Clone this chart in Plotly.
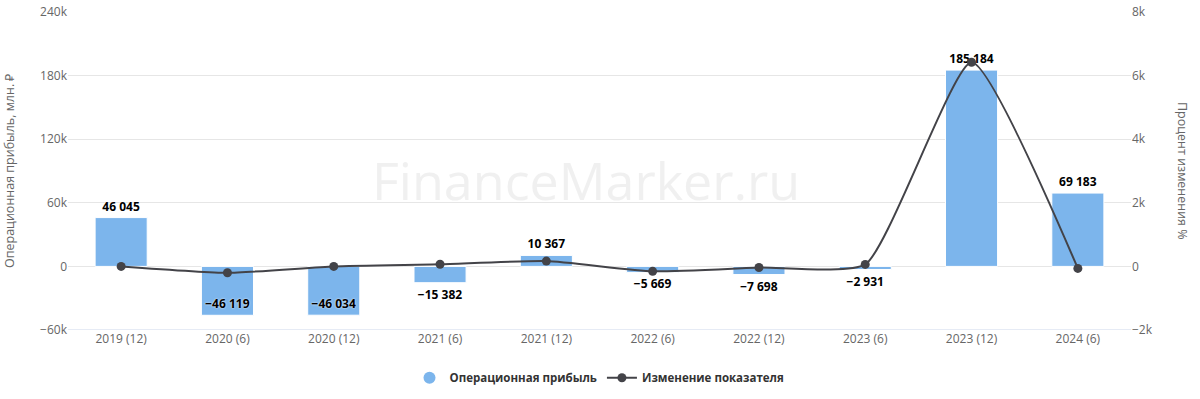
import plotly.graph_objects as go

categories = ["2019 (12)", "2020 (6)", "2020 (12)", "2021 (6)", "2021 (12)",
              "2022 (6)", "2022 (12)", "2023 (6)", "2023 (12)", "2024 (6)"]
profit = [46045, -46119, -46034, -15382, 10367, -5669, -7698, -2931, 185184, 69183]
change_pct = [0, -200.2, 0.2, 66.6, 167.4, -154.7, -35.8, 61.9, 6418.1, -62.6]

def fmt(v):
    s = f"{abs(v):,}".replace(",", "\u00a0")
    return ("\u2212" + s) if v < 0 else s

labels = [fmt(v) for v in profit]
# labels that would fall below the axis are placed inside the bar end
positions = ["inside" if v < -30000 else "outside" for v in profit]

FONT = "Open Sans"
W, H = 1200, 399
L, R, T, B = 68, 69, 12, 69
pw = W - L - R

lab_font = dict(family=FONT, size=12, color="#000000", weight="bold",
                shadow="0px 0px 2px #ffffff")

fig = go.Figure()
fig.add_trace(go.Bar(
    x=categories, y=profit, name="Операционная прибыль",
    marker=dict(color="#7cb5ec", line=dict(width=1, color="#ffffff")),
    width=0.49, text=labels, textposition=positions, insidetextanchor="end",
    constraintext="none", cliponaxis=False, showlegend=False,
    textfont=lab_font, insidetextfont=lab_font, outsidetextfont=lab_font,
    yaxis="y",
))
fig.add_trace(go.Scatter(
    x=[None], y=[None], mode="markers", name="Операционная прибыль",
    marker=dict(color="#7cb5ec", size=12, symbol="circle"), yaxis="y",
))
fig.add_trace(go.Scatter(
    x=categories, y=change_pct, name="Изменение показателя",
    mode="lines+markers", line=dict(color="#434348", width=2, shape="spline", smoothing=0.5),
    marker=dict(color="#434348", size=9), yaxis="y2", cliponaxis=False,
))

fig.add_annotation(text="FinanceMarker.ru", xref="paper", yref="paper", x=0.487, y=0.472,
                   showarrow=False, font=dict(family=FONT, size=52, color="rgba(200,200,200,0.28)"))
fig.add_annotation(text="Операционная прибыль, млн. ₽", xref="paper", yref="paper",
                   x=(9 - L) / pw, y=0.5, xanchor="center", yanchor="middle",
                   textangle=-90, showarrow=False,
                   font=dict(family=FONT, size=12.5, color="#666666"))
fig.add_annotation(text="Процент изменения %", xref="paper", yref="paper",
                   x=(1183 - L) / pw, y=0.5, xanchor="center", yanchor="middle",
                   textangle=90, showarrow=False,
                   font=dict(family=FONT, size=12.5, color="#666666"))

fig.update_layout(
    width=W, height=H,
    margin=dict(l=L, r=R, t=T, b=B, autoexpand=False),
    paper_bgcolor="white", plot_bgcolor="white",
    font=dict(family=FONT, size=12, color="#666666"),
    bargap=0.5,
    xaxis=dict(showgrid=False, tickfont=dict(size=12, color="#666666"), ticks="",
               range=[-0.5, len(categories) - 0.5],
               showline=False, zeroline=False, automargin=False),
    yaxis=dict(range=[-60000, 240000], dtick=60000, tickformat="~s",
               showgrid=True, gridcolor="#e6e6e6", zeroline=False, automargin=False,
               ticklabeloverflow="allow",
               tickfont=dict(size=12, color="#666666")),
    yaxis2=dict(range=[-2000, 8000], dtick=2000, tickformat="~s", overlaying="y", side="right",
                showgrid=False, zeroline=False, automargin=False,
                ticklabeloverflow="allow",
                tickfont=dict(size=12, color="#666666")),
    legend=dict(orientation="h", x=0.5, xanchor="center", y=-0.15, yanchor="middle",
                font=dict(size=11.5, color="#333333", weight="bold"), traceorder="normal"),
)
fig.add_shape(type="line", xref="paper", yref="y", x0=0, x1=1, y0=-60000, y1=-60000,
              line=dict(color="#ccd6eb", width=1), layer="below")

# remove the browser's default 8px body margin so the figure sits at the page corner
fig.write_html("out.html", config={"displayModeBar": False},
               post_script="document.body.style.margin='0';")
